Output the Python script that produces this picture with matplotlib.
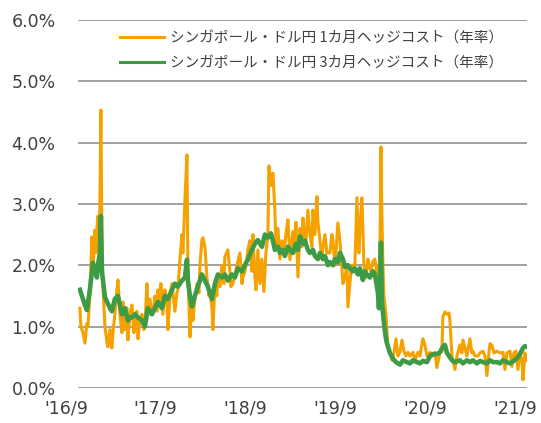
import matplotlib
matplotlib.use('Agg')
import matplotlib.pyplot as plt
import matplotlib.transforms as mtransforms
from matplotlib.ticker import FuncFormatter

# months since 2016/9, hedge cost in % (annualised)
hedge_1m_month = [
    0.27, 0.40, 0.67, 0.94, 1.20, 1.34, 1.60, 1.87, 2.00, 2.27, 2.41, 2.54, 2.67, 2.81, 2.94, 3.07,
    3.21, 3.34, 3.61, 3.88, 4.01, 4.28, 4.54, 4.68, 4.94, 5.21, 5.35, 5.61, 5.88, 6.01, 6.28, 6.55,
    6.68, 6.95, 7.22, 7.48, 7.62, 7.88, 8.02, 8.29, 8.55, 8.82, 8.95, 9.22, 9.35, 9.62, 9.89, 10.16,
    10.29, 10.56, 10.69, 10.96, 11.09, 11.36, 11.63, 11.89, 12.03, 12.29, 12.56, 12.83, 12.96, 13.23,
    13.36, 13.63, 13.90, 14.03, 14.30, 14.57, 14.70, 14.97, 15.23, 15.37, 15.63, 15.90, 16.17, 16.30,
    16.57, 16.70, 16.97, 17.24, 17.51, 17.64, 17.91, 18.04, 18.31, 18.57, 18.71, 18.98, 19.24, 19.51,
    19.64, 20.04, 20.31, 20.44, 20.71, 20.98, 21.25, 21.65, 21.92, 22.05, 22.32, 22.58, 22.72, 22.98,
    23.25, 23.39, 23.65, 23.79, 24.05, 24.32, 24.59, 24.85, 25.12, 25.39, 25.52, 25.79, 26.06, 26.32,
    26.46, 26.73, 26.99, 27.26, 27.53, 27.79, 28.06, 28.33, 28.60, 28.73, 29.00, 29.13, 29.40, 29.67,
    29.93, 30.07, 30.33, 30.47, 30.73, 31.00, 31.27, 31.40, 31.67, 31.94, 32.07, 32.34, 32.61, 32.74,
    33.01, 33.27, 33.67, 33.94, 34.08, 34.34, 34.48, 34.74, 35.01, 35.14, 35.41, 35.68, 35.95, 36.08,
    36.48, 36.61, 37.01, 37.28, 37.55, 37.68, 37.95, 38.22, 38.48, 38.75, 39.02, 39.15, 39.42, 39.69,
    39.82, 40.09, 40.36, 40.49, 40.62, 40.76, 40.89, 41.16, 41.43, 41.69, 41.96, 42.23, 42.49, 42.76,
    43.03, 43.30, 43.56, 43.83, 44.10, 44.37, 44.77, 45.03, 45.44, 45.70, 46.10, 46.37, 46.64, 47.04,
    47.44, 47.71, 47.97, 48.37, 48.64, 48.77, 49.04, 49.31, 49.58, 49.71, 49.98, 50.38, 50.65, 51.05,
    51.31, 51.45, 51.72, 51.98, 52.38, 52.65, 52.78, 53.05, 53.45, 53.72, 54.12, 54.39, 54.65, 54.92,
    55.06, 55.32, 55.59, 55.99, 56.39, 56.79, 57.06, 57.33, 57.73, 58.00, 58.26, 58.53, 58.80, 59.06,
    59.33, 59.47, 59.73, 60.00,
]
hedge_1m = [
    1.30, 1.00, 0.90, 0.73, 1.05, 1.00, 1.50, 2.46, 1.85, 2.57, 2.20, 2.60, 2.80, 2.30, 3.00, 4.53,
    2.40, 1.70, 1.00, 0.75, 0.67, 0.95, 0.65, 0.90, 1.20, 1.60, 1.76, 1.20, 0.90, 1.40, 0.95, 1.30,
    0.78, 1.20, 1.35, 0.90, 1.00, 1.25, 0.80, 1.10, 1.20, 0.95, 1.00, 1.70, 1.30, 1.45, 1.20, 1.35,
    1.50, 1.25, 1.60, 1.35, 1.70, 1.20, 1.60, 1.40, 0.95, 1.45, 1.70, 1.40, 1.25, 1.55,
    1.60, 2.09, 2.50, 2.20, 3.06, 3.80, 1.90, 0.83, 1.40, 1.10, 1.45, 1.70, 1.55, 2.00,
    2.41, 2.45, 2.30, 1.80, 1.50, 1.60, 1.30, 0.95, 1.70, 1.50, 1.80, 1.65, 2.00, 1.70,
    2.14, 2.25, 1.90, 1.65, 1.70, 1.85, 2.00, 2.20, 1.70, 1.80, 1.90, 2.10, 2.25, 2.40,
    1.90, 2.50, 1.80, 1.60, 2.25, 1.70, 2.10, 1.57, 2.20, 2.50, 3.62, 3.30, 3.50, 2.90,
    2.30, 2.60, 2.10, 2.40, 2.20, 2.50, 2.74, 2.09, 2.40, 2.55, 2.30, 2.70, 1.81, 2.60,
    2.30, 2.77, 2.35, 2.40, 2.90, 2.50, 2.30, 2.90, 2.50, 3.12, 2.70, 2.40, 2.10, 2.30,
    2.50, 2.20, 2.20, 2.50, 2.40, 2.00, 2.20, 2.69, 2.40, 2.20, 1.70, 1.80, 2.00, 1.32,
    1.90, 2.00, 2.00, 3.10, 2.20, 2.60, 3.10, 2.00, 1.80, 2.10, 1.95, 1.90, 2.06, 2.10,
    2.00, 1.57, 2.20, 3.93, 2.80, 2.00, 1.50, 1.20, 0.67, 0.60, 0.45, 0.57, 0.80, 0.52,
    0.58, 0.78, 0.60, 0.52, 0.58, 0.52, 0.58, 0.45, 0.58, 0.52, 0.80, 0.70, 0.52, 0.58,
    0.52, 0.58, 0.33, 0.57, 0.60, 1.16, 1.24, 1.20, 1.22, 1.10, 0.52, 0.30, 0.52, 0.70,
    0.57, 0.78, 0.65, 0.52, 0.80, 0.57, 0.60, 0.52, 0.52, 0.57, 0.60, 0.52, 0.20, 0.57,
    0.72, 0.70, 0.57, 0.60, 0.57, 0.58, 0.30, 0.57, 0.60, 0.35, 0.57, 0.60, 0.30, 0.57,
    0.45, 0.13, 0.57, 0.45,
]

hedge_3m_month = [
    0.27, 0.67, 0.94, 1.20, 1.60, 2.00, 2.27, 2.54, 2.67, 2.94, 3.07, 3.21, 3.61, 4.01, 4.28, 4.54,
    4.94, 5.35, 5.61, 5.88, 6.28, 6.68, 6.95, 7.22, 7.62, 8.02, 8.55, 8.95, 9.35, 9.62, 9.89, 10.29,
    10.69, 11.22, 11.63, 12.03, 12.56, 12.96, 13.36, 13.90, 14.30, 14.57, 14.70, 14.97, 15.23, 15.63,
    16.04, 16.30, 16.57, 16.97, 17.37, 17.91, 18.31, 18.71, 19.24, 19.64, 20.04, 20.58, 20.98, 21.38,
    21.92, 22.32, 22.72, 23.25, 23.65, 24.05, 24.59, 24.99, 25.39, 25.79, 26.06, 26.32, 26.73, 26.99,
    27.39, 27.66, 28.06, 28.33, 28.73, 29.13, 29.40, 29.67, 30.07, 30.33, 30.73, 31.00, 31.40, 31.67,
    32.07, 32.34, 32.74, 33.01, 33.41, 33.67, 34.08, 34.34, 34.74, 35.01, 35.41, 35.68, 36.08, 36.35,
    36.75, 37.01, 37.42, 37.68, 38.08, 38.35, 38.62, 39.02, 39.42, 39.69, 39.82, 40.09, 40.22, 40.36,
    40.49, 40.62, 40.89, 41.16, 41.29, 41.69, 42.09, 42.49, 43.03, 43.43, 43.96, 44.37, 44.77, 45.30,
    45.70, 46.10, 46.64, 47.04, 47.44, 47.97, 48.37, 48.77, 49.04, 49.31, 49.71, 49.98, 50.38, 51.05,
    51.45, 51.98, 52.38, 52.78, 53.32, 53.72, 54.12, 54.65, 55.06, 55.46, 55.99, 56.39, 56.79, 57.33,
    57.73, 58.13, 58.66, 59.06, 59.47, 59.73, 60.00,
]
hedge_3m = [
    1.60, 1.45, 1.35, 1.27, 1.60, 2.04, 1.90, 1.80, 2.00, 2.20, 2.80, 1.90, 1.48, 1.37, 1.30, 1.25,
    1.45, 1.50, 1.35, 1.20, 1.30, 1.10, 1.15, 1.15, 1.20, 1.15, 1.10, 1.00, 1.30, 1.25, 1.20, 1.30,
    1.40, 1.30, 1.50, 1.45, 1.60, 1.70, 1.65, 1.75, 1.80, 2.09, 1.75, 1.50, 1.33, 1.50,
    1.65, 1.75, 1.85, 1.75, 1.65, 1.45, 1.70, 1.85, 1.80, 1.85, 1.75, 1.85, 1.80, 1.95,
    1.90, 2.00, 2.10, 2.25, 2.35, 2.41, 2.30, 2.50, 2.45, 2.52, 2.40, 2.25, 2.30, 2.20,
    2.25, 2.15, 2.30, 2.25, 2.20, 2.35, 2.25, 2.47, 2.35, 2.40, 2.25, 2.20, 2.25, 2.15,
    2.10, 2.20, 2.10, 2.15, 2.00, 2.05, 2.00, 2.10, 2.05, 2.20, 2.10, 1.97, 2.00, 1.95,
    1.90, 1.95, 1.85, 1.95, 1.76, 1.90, 1.85, 1.80, 1.90, 1.85, 1.75, 1.55, 1.30, 1.60,
    2.37, 1.40, 1.06, 0.80, 0.73, 0.57, 0.48, 0.42, 0.38, 0.45, 0.42, 0.40, 0.45, 0.42,
    0.40, 0.44, 0.42, 0.52, 0.55, 0.55, 0.58, 0.67, 0.70, 0.57, 0.50, 0.45, 0.42, 0.45,
    0.40, 0.45, 0.42, 0.45, 0.40, 0.44, 0.42, 0.40, 0.45, 0.42, 0.42, 0.40, 0.45, 0.42,
    0.40, 0.43, 0.48, 0.55, 0.65, 0.68, 0.67,
]

tick_months = [0, 12, 24, 36, 48, 60]
tick_labels = ["'16/9", "'17/9", "'18/9", "'19/9", "'20/9", "'21/9"]
y_ticks = [0, 1, 2, 3, 4, 5, 6]

label_1m = 'シンガポール・ドル円 1カ月ヘッジコスト（年率）'
label_3m = 'シンガポール・ドル円 3カ月ヘッジコスト（年率）'

ORANGE = '#F5A100'
GREEN = '#3D9A45'
GRID = '#A0A0A0'
TEXT = '#404040'

plt.rcParams['font.family'] = ['DejaVu Sans']

fig, ax = plt.subplots(figsize=(5.41, 4.23), dpi=100)
fig.subplots_adjust(left=0.144, right=0.974, bottom=0.083, top=0.953)

ax.plot(hedge_1m_month, hedge_1m, color=ORANGE, lw=2.2, label=label_1m, zorder=3)
ax.plot(hedge_3m_month, hedge_3m, color=GREEN, lw=3.3, label=label_3m, zorder=4)

ax.set_xlim(0, 60)
ax.set_ylim(0, 6)
ax.set_yticks(y_ticks)
ax.yaxis.set_major_formatter(FuncFormatter(lambda v, _: f'{v:.1f}%'))
ax.set_xticks(tick_months)
ax.set_xticklabels(tick_labels)
for spine in ax.spines.values():
    spine.set_visible(False)
ax.tick_params(axis='both', length=0, labelsize=12.5, colors=TEXT)
ax.tick_params(axis='y', pad=16)
ax.tick_params(axis='x', pad=8)

# horizontal gridlines at the y ticks, under the series
ax.set_axisbelow(True)
ax.yaxis.grid(True, color=GRID, linewidth=1.2)
ax.hlines(y_ticks, 0, 60, colors=GRID, linewidth=1.2, zorder=2)

# category labels in the original sit a little left of the period start
shift = mtransforms.ScaledTranslation(-12 / 100, 0, fig.dpi_scale_trans)
for lbl in ax.get_xticklabels():
    lbl.set_transform(lbl.get_transform() + shift)

leg = ax.legend(loc='upper right', bbox_to_anchor=(0.96, 0.985), frameon=False,
                prop={'family': ['Noto Sans CJK JP', 'DejaVu Sans'], 'size': 10.5},
                handlelength=3.0, handletextpad=0.4, labelspacing=0.75,
                borderaxespad=0)
for text in leg.get_texts():
    text.set_color(TEXT)
for line in leg.get_lines():
    line.set_linewidth(2.2)

fig.savefig('out.png', dpi=100)
